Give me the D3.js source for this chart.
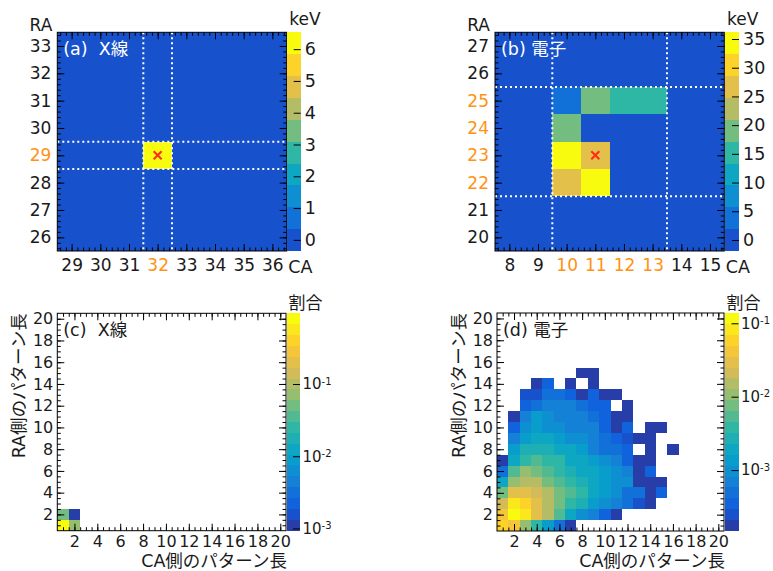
<!DOCTYPE html>
<html><head><meta charset="utf-8">
<script src="https://cdn.jsdelivr.net/npm/d3@7"></script>
<style>
body{margin:0;background:#fff}
text{font-family:"DejaVu Sans","Noto Sans CJK JP",sans-serif}
</style></head><body>
<script>
// (a) X-ray event: strip numbers and deposited energy (keV)
var aCA=[29,30,31,32,33,34,35,36], aRA=[26,27,28,29,30,31,32,33];
var aHitCA=[32], aHitRA=[29], aHitE=[6.3];
var aZRange=[-0.35,6.53], aZTicks=[0,1,2,3,4,5,6];
var aLinesCA=[31.5,32.5], aLinesRA=[28.5,29.5];
var aHotCA=[32], aHotRA=[29], aMark=[32,29];

// (b) electron event
var bCA=[8,9,10,11,12,13,14,15], bRA=[20,21,22,23,24,25,26,27];
var bHitCA=[10,11,12,13,10,10,11,10,11];
var bHitRA=[25,25,25,25,24,23,23,22,22];
var bHitE=[3.8,19,15,15,19,35,27,27,34];
var bZRange=[-1.92,36.17], bZTicks=[0,5,10,15,20,25,30,35];
var bLinesCA=[9.5,13.5], bLinesRA=[21.5,25.5];
var bHotCA=[10,11,12,13], bHotRA=[22,23,24,25], bMark=[11,23];

// (c),(d) pattern length fractions (CA length = column, RA length = row)
var lenTicks=[2,4,6,8,10,12,14,16,18,20];
var cRows=[
  [0.88,0.06],
  [0.055,0.0011]
];
var cZRange=[9.3e-4,0.955];
var dRows=[
  [5.9e-2,4.2e-2,1.1e-2,3.8e-3,1.4e-3,4.9e-4,1.8e-4],
  [4.2e-2,1.16e-1,8.3e-2,3.0e-2,1.5e-2,5.4e-3,1.9e-3,9.7e-4,6.9e-4,3.5e-4,1.8e-4],
  [2.1e-2,8.3e-2,5.9e-2,3.0e-2,1.5e-2,7.6e-3,3.8e-3,2.7e-3,1.4e-3,9.7e-4,6.9e-4,4.9e-4,2.5e-4,1.8e-4],
  [7.6e-3,3.0e-2,3.0e-2,2.1e-2,1.5e-2,7.6e-3,5.4e-3,3.8e-3,1.9e-3,1.4e-3,9.7e-4,4.9e-4,4.9e-4,1.8e-4,3.5e-4],
  [1.9e-3,1.1e-2,1.5e-2,1.5e-2,7.6e-3,5.4e-3,3.8e-3,2.7e-3,1.9e-3,1.4e-3,9.7e-4,9.7e-4,1.8e-4,1.8e-4,1.8e-4],
  [4.9e-4,5.4e-3,1.1e-2,7.6e-3,5.4e-3,3.8e-3,2.7e-3,1.9e-3,1.9e-3,1.4e-3,9.7e-4,6.9e-4,1.8e-4,3.5e-4],
  [1.8e-4,1.9e-3,3.8e-3,5.4e-3,3.8e-3,3.8e-3,1.9e-3,1.9e-3,1.4e-3,9.7e-4,6.9e-4,3.5e-4,1.8e-4,1.8e-4],
  [null,1.4e-3,2.7e-3,2.7e-3,2.7e-3,1.9e-3,1.9e-3,1.4e-3,6.9e-4,4.9e-4,4.9e-4,3.5e-4,null,1.8e-4,null,1.8e-4],
  [null,6.9e-4,1.4e-3,1.9e-3,1.9e-3,1.4e-3,9.7e-4,9.7e-4,6.9e-4,4.9e-4,3.5e-4,2.5e-4,1.8e-4,1.8e-4],
  [null,3.5e-4,9.7e-4,1.4e-3,9.7e-4,9.7e-4,6.9e-4,6.9e-4,6.9e-4,3.5e-4,1.8e-4,3.5e-4,null,1.8e-4,1.8e-4],
  [null,1.8e-4,6.9e-4,1.4e-3,9.7e-4,6.9e-4,6.9e-4,6.9e-4,4.9e-4,3.5e-4,1.8e-4,1.8e-4],
  [null,null,3.5e-4,4.9e-4,6.9e-4,6.9e-4,6.9e-4,4.9e-4,3.5e-4,3.5e-4,null,1.8e-4],
  [null,null,2.5e-4,2.5e-4,4.9e-4,4.9e-4,3.5e-4,1.8e-4,3.5e-4,1.8e-4,1.8e-4],
  [null,null,null,1.8e-4,3.5e-4,null,1.8e-4,null,1.8e-4],
  [null,null,null,null,null,null,null,1.8e-4,1.8e-4]
];
var dZRange=[1.48e-4,0.138];
var logTicks=[1e-3,1e-2,1e-1];

var ORANGE="#ff9214", INK="#1a1a1a";
// ROOT kBird palette
var bird=d3.scaleLinear().domain([0,.125,.25,.375,.5,.625,.75,.875,1])
  .range(["#352a87","#0f5cdd","#1481d6","#06a4ca","#2eb7a4","#87bf77","#d1bb59","#fec832","#f9fb0e"]);
function bandColors(n){
  return d3.range(n).map(function(i){return bird(Math.floor((i+0.99)*255/n)/254);});
}

var svg=d3.select("body").append("svg").attr("width",773).attr("height",571);

function hitCells(cs,rs,vs){
  return cs.map(function(c,i){return {c:c,r:rs[i],v:vs[i]};});
}
function gridCells(rows){
  var out=[];
  rows.forEach(function(row,ri){
    row.forEach(function(v,ci){ if(v!=null) out.push({c:ci+1,r:ri+1,v:v}); });
  });
  return out;
}

function axis(gen,scale,vals,size,pad,fmt,tr,fs){
  var a=gen(scale).tickValues(vals).tickSize(size).tickPadding(pad).tickFormat(fmt||"");
  var ga=svg.append("g").attr("transform",tr).call(a);
  ga.select(".domain").remove();
  ga.attr("font-size",null).attr("font-family",null);
  ga.selectAll("line").attr("stroke","#000").attr("stroke-width",1);
  ga.selectAll("text").attr("font-size",fs||17).attr("fill",INK);
  return ga;
}

function drawPanel(o){
  var x=d3.scaleLinear().domain(o.xd).range([o.x0,o.x1]);
  var y=d3.scaleLinear().domain(o.yd).range([o.y1,o.y0]);
  var cols=bandColors(o.nb);
  var q=d3.scaleQuantize().domain(o.log?o.zd.map(Math.log10):o.zd).range(cols);
  var col=function(v){return q(o.log?Math.log10(v):v);};
  var g=svg.append("g");
  if(o.bg) g.append("rect").attr("x",o.x0).attr("y",o.y0)
    .attr("width",o.x1-o.x0).attr("height",o.y1-o.y0).attr("fill",col(0));
  g.selectAll("rect.cell").data(o.cells).enter().append("rect").attr("class","cell")
    .attr("x",function(d){return x(d.c-0.5);})
    .attr("y",function(d){return y(d.r+0.5);})
    .attr("width",function(d){return x(d.c+0.5)-x(d.c-0.5);})
    .attr("height",function(d){return y(d.r-0.5)-y(d.r+0.5);})
    .attr("fill",function(d){return col(d.v);})
    .attr("shape-rendering","crispEdges");

  // dotted guide lines
  (o.vl||[]).forEach(function(v){
    g.append("line").attr("x1",x(v)).attr("x2",x(v)).attr("y1",o.y0).attr("y2",o.y1)
      .attr("stroke","#fff").attr("stroke-width",2).attr("stroke-dasharray","2,3");
  });
  (o.hl||[]).forEach(function(v){
    g.append("line").attr("y1",y(v)).attr("y2",y(v)).attr("x1",o.x0).attr("x2",o.x1)
      .attr("stroke","#fff").attr("stroke-width",2).attr("stroke-dasharray","2,3");
  });
  if(o.mark){
    var mx=x(o.mark[0]), my=y(o.mark[1]);
    g.append("path").attr("d","M"+(mx-4)+","+(my-4)+"L"+(mx+4)+","+(my+4)+"M"+(mx+4)+","+(my-4)+"L"+(mx-4)+","+(my+4))
      .attr("stroke","#ff2a1a").attr("stroke-width",2);
  }

  // frame ticks on all sides
  var fmt=function(d){return d;};
  var bx=axis(d3.axisBottom,x,o.xt,-7,o.xpad,fmt,"translate(0,"+o.y1+")",o.tfs);
  axis(d3.axisBottom,x,o.xm,-3.5,0,"","translate(0,"+o.y1+")");
  axis(d3.axisTop,x,o.xt,-7,0,"","translate(0,"+o.y0+")");
  axis(d3.axisTop,x,o.xm,-3.5,0,"","translate(0,"+o.y0+")");
  var ly=axis(d3.axisLeft,y,o.yt,-7,o.ypad,fmt,"translate("+o.x0+",0)",o.tfs);
  axis(d3.axisLeft,y,o.ym,-3.5,0,"","translate("+o.x0+",0)");
  axis(d3.axisRight,y,o.yt,-7,0,"","translate("+o.x1+",0)");
  axis(d3.axisRight,y,o.ym,-3.5,0,"","translate("+o.x1+",0)");
  if(o.hotX) bx.selectAll(".tick text").attr("fill",function(d){return o.hotX.indexOf(d)>=0?ORANGE:INK;});
  if(o.hotY) ly.selectAll(".tick text").attr("fill",function(d){return o.hotY.indexOf(d)>=0?ORANGE:INK;});

  svg.append("rect").attr("x",o.x0).attr("y",o.y0).attr("width",o.x1-o.x0).attr("height",o.y1-o.y0)
    .attr("fill","none").attr("stroke","#000").attr("stroke-width",1);

  // colour bar
  var qd=q.domain();
  var bounds=[qd[0]].concat(q.thresholds(),[qd[1]]);
  var cyq=d3.scaleLinear().domain(qd).range([o.y1,o.y0]);
  svg.append("g").selectAll("rect").data(cols).enter().append("rect")
    .attr("x",o.cb[0]).attr("width",o.cb[1]-o.cb[0])
    .attr("y",function(d,i){return cyq(bounds[i+1]);})
    .attr("height",function(d,i){return cyq(bounds[i])-cyq(bounds[i+1]);})
    .attr("fill",function(d){return d;})
    .attr("shape-rendering","crispEdges");
  var cy=o.log?d3.scaleLog().domain(o.zd).range([o.y1,o.y0]):d3.scaleLinear().domain(o.zd).range([o.y1,o.y0]);
  var ca=axis(d3.axisRight,cy,o.zt,-7,o.log?2.5:4,function(d){return o.log?"":d;},
    "translate("+o.cb[1]+",0)",o.log?15:17.5);
  if(o.log){
    ca.selectAll(".tick text").each(function(d){
      var t=d3.select(this);
      t.append("tspan").text("10");
      t.append("tspan").attr("dy","-0.45em").attr("font-size",10).text(String(Math.round(Math.log10(d))));
    });
  }

  // texts
  svg.append("text").attr("x",o.x0+6).attr("y",o.y0+23).attr("font-size",17.5)
    .attr("fill",o.titleFill).text(o.title);
  svg.append("text").attr("x",o.cb[0]+2).attr("y",o.unitY).attr("font-size",17).attr("fill",INK).text(o.unit);
  if(o.yName){
    svg.append("text").attr("x",o.x0-5).attr("y",o.y0-1.5).attr("text-anchor","end")
      .attr("font-size",17).attr("fill",INK).text(o.yName);
    svg.append("text").attr("x",o.x1+1.5).attr("y",o.y1+22).attr("font-size",17.5).attr("fill",INK).text(o.xName);
  } else {
    svg.append("text").attr("transform","translate("+(o.x0-32)+","+o.y0+") rotate(-90)")
      .attr("text-anchor","end").attr("font-size",17.5).attr("fill",INK).text("RA側のパターン長");
    svg.append("text").attr("x",o.x1+1).attr("y",o.y1+36).attr("text-anchor","end")
      .attr("font-size",17.5).attr("fill",INK).text("CA側のパターン長");
  }
}

var lenMinor=d3.range(1,20.5,0.5);

drawPanel({x0:57.3,x1:286.7,y0:32.3,y1:251,cb:[287.3,300.7],
  xd:[28.5,36.5],yd:[25.5,33.5],xt:aCA,yt:aRA,xm:d3.range(28.6,36.45,0.2),ym:d3.range(25.6,33.45,0.2),
  xpad:8,ypad:6,tfs:17,nb:10,zd:aZRange,zt:aZTicks,bg:true,cells:hitCells(aHitCA,aHitRA,aHitE),
  vl:aLinesCA,hl:aLinesRA,hotX:aHotCA,hotY:aHotRA,mark:aMark,
  title:"(a)\u00a0\u00a0X線",titleFill:"#fff",unit:"keV",unitY:25,yName:"RA",xName:"CA"});
drawPanel({x0:495,x1:724.3,y0:32.3,y1:251,cb:[725,739],
  xd:[7.5,15.5],yd:[19.5,27.5],xt:bCA,yt:bRA,xm:d3.range(7.6,15.45,0.2),ym:d3.range(19.6,27.45,0.2),
  xpad:8,ypad:6,tfs:17,nb:10,zd:bZRange,zt:bZTicks,bg:true,cells:hitCells(bHitCA,bHitRA,bHitE),
  vl:bLinesCA,hl:bLinesRA,hotX:bHotCA,hotY:bHotRA,mark:bMark,
  title:"(b) 電子",titleFill:"#fff",unit:"keV",unitY:25,yName:"RA",xName:"CA"});
drawPanel({x0:57.3,x1:286,y0:313.3,y1:530.7,cb:[286.5,300],
  xd:[0.5,20.5],yd:[0.5,20.5],xt:lenTicks,yt:lenTicks,xm:lenMinor,ym:lenMinor,
  xpad:5,ypad:4,tfs:16,nb:20,log:true,zd:cZRange,zt:logTicks,cells:gridCells(cRows),
  title:"(c)\u00a0\u00a0X線",titleFill:INK,unit:"割合",unitY:309});
drawPanel({x0:497,x1:724,y0:313,y1:531,cb:[724.5,738.5],
  xd:[0.5,20.5],yd:[0.5,20.5],xt:lenTicks,yt:lenTicks,xm:lenMinor,ym:lenMinor,
  xpad:5,ypad:4,tfs:16,nb:20,log:true,zd:dZRange,zt:logTicks,cells:gridCells(dRows),
  title:"(d) 電子",titleFill:INK,unit:"割合",unitY:309});
</script>
</body></html>
